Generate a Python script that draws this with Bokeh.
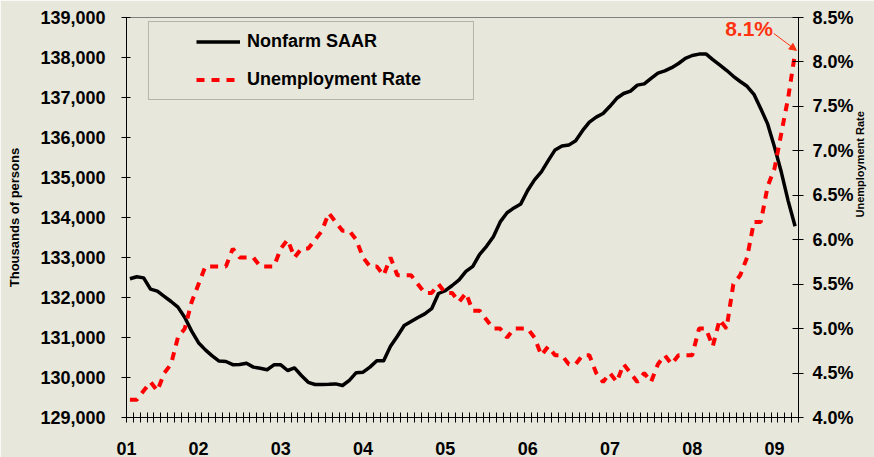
import math
from bokeh.plotting import figure
from bokeh.models import (Range1d, LinearAxis, FixedTicker, NumeralTickFormatter,
                          PrintfTickFormatter, Legend, LegendItem, Label, Arrow,
                          NormalHead, BoxAnnotation, ColumnDataSource)
from bokeh.embed import file_html
from bokeh.resources import INLINE

# ---------------- data (Jan 2001 .. Feb 2009, monthly) ----------------
months = list(range(98))
nonfarm = [
    132470, 132520, 132490, 132210, 132160, 132030, 131900, 131760, 131500, 131160, 130870, 130690,
    130540, 130410, 130400, 130320, 130325, 130355, 130260, 130230, 130195, 130317, 130317, 130175,
    130240, 130050, 129880, 129825, 129825, 129830, 129840, 129800, 129930, 130120, 130133, 130260,
    130420, 130420, 130780, 131030, 131300, 131400, 131500, 131590, 131720, 132100, 132170, 132300,
    132440, 132655, 132780, 133080, 133280, 133520, 133890, 134120, 134240, 134340, 134675, 134940,
    135140, 135420, 135690, 135790, 135810, 135920, 136170, 136385, 136510, 136600, 136780, 136980,
    137100, 137160, 137310, 137340, 137480, 137610, 137665, 137745, 137850, 137980, 138050, 138085,
    138090, 137945, 137815, 137680, 137530, 137400, 137280, 137080, 136720, 136340, 135760, 135130,
    134410, 133780,
]
unemp = [
    4.2, 4.2, 4.3, 4.4, 4.3, 4.5, 4.6, 4.9, 5.0, 5.3, 5.5, 5.7,
    5.7, 5.7, 5.7, 5.9, 5.8, 5.8, 5.8, 5.7, 5.7, 5.7, 5.9, 6.0,
    5.8, 5.9, 5.9, 6.0, 6.1, 6.3, 6.2, 6.1, 6.1, 6.0, 5.8, 5.7,
    5.7, 5.6, 5.8, 5.6, 5.6, 5.6, 5.5, 5.4, 5.4, 5.5, 5.4, 5.4,
    5.3, 5.4, 5.2, 5.2, 5.1, 5.0, 5.0, 4.9, 5.0, 5.0, 5.0, 4.9,
    4.7, 4.8, 4.7, 4.7, 4.6, 4.6, 4.7, 4.7, 4.5, 4.4, 4.5, 4.4,
    4.6, 4.5, 4.4, 4.5, 4.4, 4.6, 4.7, 4.6, 4.7, 4.7, 4.7, 5.0,
    5.0, 4.8, 5.1, 5.0, 5.5, 5.6, 5.8, 6.2, 6.2, 6.6, 6.8, 7.2,
    7.6, 8.1,
]
year_labels = ["01", "02", "03", "04", "05", "06", "07", "08", "09"]
left_ticks = [129000, 130000, 131000, 132000, 133000, 134000, 135000, 136000, 137000, 138000, 139000]
right_ticks = [4.0, 4.5, 5.0, 5.5, 6.0, 6.5, 7.0, 7.5, 8.0, 8.5]

# ---------------- styling ----------------
BG = "#E7E7DB"
FONT = "Liberation Sans"
RED = "#FF0000"
ANN = "#FF3311"

p = figure(width=874, height=457, output_backend="svg", toolbar_location=None,
           x_range=Range1d(-0.5, len(months) - 0.5),
           y_range=Range1d(left_ticks[0], left_ticks[-1]),
           min_border_left=126, min_border_right=74, min_border_top=17, min_border_bottom=40,
           background_fill_color=BG, border_fill_color=BG,
           outline_line_color="#808080", outline_line_width=1)
p.extra_y_ranges = {"rate": Range1d(right_ticks[0], right_ticks[-1])}
p.grid.visible = False

# left axis
ya = p.yaxis[0]
ya.ticker = FixedTicker(ticks=left_ticks)
ya.formatter = NumeralTickFormatter(format="0,0")
ya.major_label_text_font = FONT
ya.major_label_text_font_size = "18px"
ya.major_label_text_font_style = "bold"
ya.major_label_text_color = "black"
ya.major_label_standoff = 16
ya.major_tick_in = 4
ya.major_tick_out = 5
ya.minor_tick_line_color = None
ya.axis_line_color = "black"
ya.major_tick_line_color = "black"
ya.axis_label = "Thousands of persons"
ya.axis_label_text_font = FONT
ya.axis_label_text_font_size = "13px"
ya.axis_label_text_font_style = "bold"
ya.axis_label_text_color = "black"
ya.axis_label_standoff = 15

# right axis
ra = LinearAxis(y_range_name="rate", ticker=FixedTicker(ticks=right_ticks),
                formatter=PrintfTickFormatter(format="%.1f%%"))
ra.major_label_text_font = FONT
ra.major_label_text_font_size = "18px"
ra.major_label_text_font_style = "bold"
ra.major_label_text_color = "black"
ra.major_label_standoff = 9
ra.major_tick_in = 6
ra.major_tick_out = 5
ra.minor_tick_line_color = None
ra.axis_line_color = "black"
ra.major_tick_line_color = "black"
ra.axis_label = "Unemployment Rate"
ra.axis_label_text_font = FONT
ra.axis_label_text_font_size = "11px"
ra.axis_label_text_font_style = "bold"
ra.axis_label_text_color = "black"
ra.axis_label_standoff = 3
if "axis_label_orientation" in ra.properties():
    ra.axis_label_orientation = math.pi / 2   # read bottom-to-top
p.add_layout(ra, "right")

# bottom axis: monthly tick marks crossing the axis line, year labels just before January
year_pos = [-0.5] + [12 * k - 2.0 for k in range(1, len(year_labels))]
xa = p.xaxis[0]
xa.ticker = FixedTicker(ticks=year_pos,
                        minor_ticks=[m - 0.5 for m in months] + [months[-1] + 0.5])
xa.major_label_overrides = {pos: lab for pos, lab in zip(year_pos, year_labels)}
xa.major_tick_in = 0
xa.major_tick_out = 0
xa.major_tick_line_color = None
xa.minor_tick_in = 5
xa.minor_tick_out = 5
xa.minor_tick_line_color = "black"
xa.major_label_standoff = 19
xa.major_label_text_font = FONT
xa.major_label_text_font_size = "18px"
xa.major_label_text_font_style = "bold"
xa.major_label_text_color = "black"
xa.axis_line_color = "black"

# series
src = ColumnDataSource(dict(m=months, nf=nonfarm, ur=unemp))
r1 = p.line("m", "nf", source=src, line_color="black", line_width=3.5, line_join="round")
r2 = p.line("m", "ur", source=src, y_range_name="rate", line_color=RED, line_width=4,
            line_dash="8 7")

# legend
legend = Legend(items=[LegendItem(label="Nonfarm SAAR", renderers=[r1]),
                       LegendItem(label="Unemployment Rate", renderers=[r2])],
                location=(70, 327), padding=0, margin=0, spacing=17,
                glyph_width=44, glyph_height=21, label_height=21, label_standoff=7,
                label_text_font=FONT, label_text_font_size="18px",
                label_text_font_style="bold", label_text_color="black",
                background_fill_alpha=0, border_line_alpha=0)
p.add_layout(legend)
p.add_layout(BoxAnnotation(left=2.7, right=50.1, top=138900, bottom=136950,
                           fill_alpha=0, line_color="#404040", line_width=1))

# annotation of last unemployment value
last_x, last_u = months[-1], unemp[-1]
p.add_layout(Label(x=last_x, y=last_u, y_range_name="rate", x_offset=-46, y_offset=25,
                   text=f"{last_u:.1f}%", text_align="center", text_baseline="middle",
                   text_font=FONT, text_font_size="21px", text_font_style="bold",
                   text_color=ANN))
p.add_layout(Arrow(end=NormalHead(size=7, fill_color=ANN, line_color=ANN),
                   x_start=last_x - 3.1, y_start=last_u + 0.22,
                   x_end=last_x + 0.2, y_end=last_u + 0.03,
                   y_range_name="rate", line_color=ANN, line_width=1))

open("out.html", "w").write(file_html(p, INLINE))
